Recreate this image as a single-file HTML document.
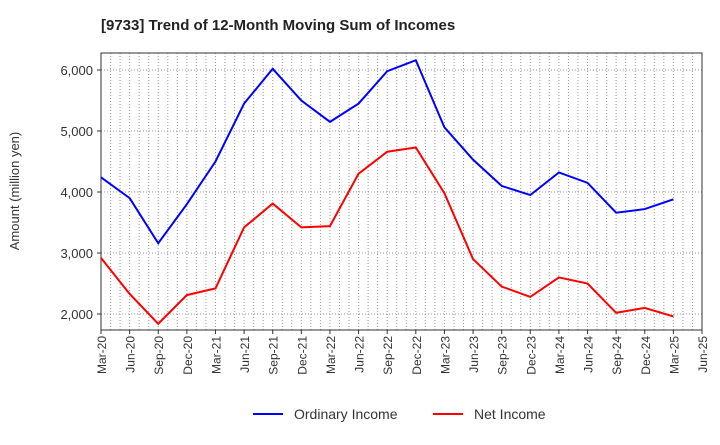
<!DOCTYPE html>
<html><head><meta charset="utf-8"><style>body{margin:0;background:#fff}svg{font-family:"Liberation Sans",sans-serif}</style></head>
<body>
<svg id="c" width="720" height="440"></svg>
<script>
const categories=["Mar-20","Jun-20","Sep-20","Dec-20","Mar-21","Jun-21","Sep-21","Dec-21","Mar-22","Jun-22","Sep-22","Dec-22","Mar-23","Jun-23","Sep-23","Dec-23","Mar-24","Jun-24","Sep-24","Dec-24","Mar-25","Jun-25"];
const ordinaryIncome=[4240,3900,3160,3800,4500,5450,6020,5500,5150,5450,5980,6160,5060,4530,4100,3950,4320,4150,3660,3720,3880];
const netIncome=[2920,2330,1840,2310,2420,3420,3810,3420,3440,4300,4660,4730,3980,2900,2450,2280,2600,2500,2020,2100,1960];
const yTicks=[2000,3000,4000,5000,6000];
const yTickLabels=["2,000","3,000","4,000","5,000","6,000"];
const NS="http://www.w3.org/2000/svg",svg=document.getElementById('c');
const L=101,R=702,T=53,B=330;
const x=i=>L+i*(R-L)/(categories.length-1);
const y=v=>314-(v-2000)*61/1000;
function el(t,a,p){const e=document.createElementNS(NS,t);for(const k in a)e.setAttribute(k,a[k]);(p||svg).appendChild(e);return e;}
const g=el('g',{});
for(let m=1;m<(categories.length-1)*3;m++){const xx=L+m*(R-L)/((categories.length-1)*3);el('line',{x1:xx,x2:xx,y1:T,y2:B,stroke:'#999','stroke-dasharray':'1,2','stroke-width':1},g);}
yTicks.forEach((v,i)=>{el('line',{x1:L,x2:R,y1:y(v),y2:y(v),stroke:'#999','stroke-dasharray':'1,2'},g);
const t=el('text',{x:L-8,y:y(v)+5,'text-anchor':'end','font-size':13,fill:'#333'});t.textContent=yTickLabels[i];

el('line',{x1:L-4,x2:L,y1:y(v),y2:y(v),stroke:'#333'});});
categories.forEach((c,i)=>{const t=el('text',{transform:`translate(${x(i)+5},${B+6}) rotate(-90)`,'text-anchor':'end','font-size':12,fill:'#333'});t.textContent=c;

el('line',{x1:x(i),x2:x(i),y1:B,y2:B+4,stroke:'#333'});});
const f=el('rect',{x:L,y:T,width:R-L,height:B-T,fill:'none',stroke:'#333'});
function line(d,col,name){const p=el('polyline',{points:d.map((v,i)=>x(i)+','+y(v)).join(' '),fill:'none',stroke:col,'stroke-width':2});}
line(ordinaryIncome,'#0000ff','ordinary-income-line');line(netIncome,'#ff0000','net-income-line');
const tt=el('text',{x:101,y:30,'font-size':15,'font-weight':'bold',fill:'#222'});tt.textContent='[9733]  Trend of 12-Month Moving Sum of Incomes';
const yt=el('text',{transform:'translate(19,191) rotate(-90)','text-anchor':'middle','font-size':13,fill:'#333'});yt.textContent='Amount (million yen)';
[[253,'#0000ff','Ordinary Income','legend-ordinary-income'],[433,'#ff0000','Net Income','legend-net-income']].forEach(a=>{const lg=el('g',{});
el('line',{x1:a[0],x2:a[0]+30,y1:414,y2:414,stroke:a[1],'stroke-width':2},lg);const t=el('text',{x:a[0]+41,y:419,'font-size':14,fill:'#333'},lg);t.textContent=a[2];});
</script></body></html>
